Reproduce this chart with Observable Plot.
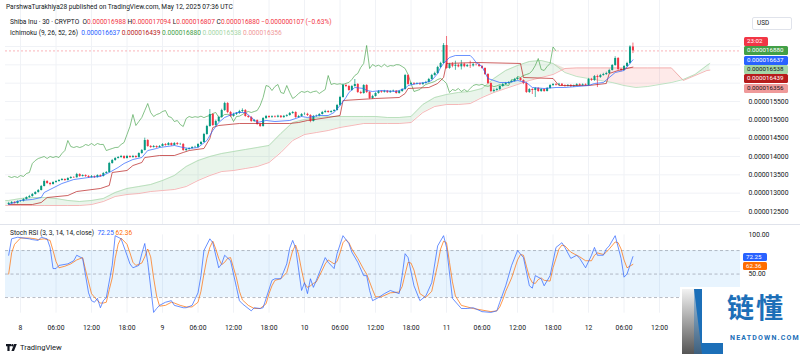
<!DOCTYPE html>
<html><head><meta charset="utf-8">
<script src="https://cdn.jsdelivr.net/npm/d3@7"></script>
<script src="https://cdn.jsdelivr.net/npm/@observablehq/plot@0.6"></script>
<style>
html,body{margin:0;padding:0;background:#fff}
#wrap{position:relative;width:800px;height:356px;overflow:hidden;background:#fff;font-family:Roboto,"Liberation Sans",sans-serif;color:#131722}
#wrap svg{position:absolute;left:0}
.t{position:absolute;white-space:nowrap;line-height:1;font-size:6.6px}
.lbl{position:absolute;height:9px;font-size:6.2px;line-height:9px;color:#fff;border-radius:1.5px;padding-left:3px;box-sizing:border-box;white-space:nowrap}
</style></head><body><div id="wrap"></div>
<script>
// ---- 30-minute candles, SHIB/USD, index 0 = 2025-05-07 22:00 UTC (prices in 1e-9 USD) ----
const open = [12690,12718,12745,12718,
12772,12780,12827,12881,12909,12963,13018,13072,13181,13318,13263,13236,
13290,13318,13345,13372,13345,13399,13427,13420,13509,13454,13481,13454,
13427,13454,13427,13481,13454,13536,13563,13809,13890,13945,13972,14000,
13945,14000,13972,14000,13972,14081,14163,14436,14272,14245,14272,14245,
14272,14327,14300,14354,14300,14354,14327,14330,14163,14191,14218,14245,
14250,14327,14382,14600,14818,15145,14845,14954,15064,15254,15445,15200,
15091,15145,15173,15227,15254,15091,15064,14954,14982,14873,14818,15036,
15091,15064,15085,15070,15100,15060,15095,15118,15173,15200,15064,15091,
15145,15150,15118,14954,15091,15100,15145,15200,15227,15200,15227,15254,
15391,15609,15936,15909,15800,15909,15964,15746,15718,15936,15746,15582,
15636,15718,15773,15750,15780,15740,15770,15785,15718,15773,15827,16209,
15964,15991,15970,15985,15960,15995,16018,16100,16209,16264,16428,16537,
17028,16400,16509,16460,16490,16445,16515,16450,16480,16470,16505,16500,
16455,16400,16237,15991,15773,15800,15827,15909,15964,15991,16018,16046,
16100,16127,16073,15991,15746,15827,15800,15855,15773,15827,15773,15855,
15936,15964,15945,15970,15930,15915,15940,15905,15925,15960,15935,15955,
15936,16100,16073,16182,16155,16209,16237,16264,16346,16482,16673,16373,
16346,16455,16537,16988];
const high = [12750,12770,12770,12790,
12800,12850,12900,12940,12990,13040,13100,13210,13360,13340,13290,13310,
13340,13370,13400,13390,13420,13450,13450,13540,13530,13500,13500,13480,
13480,13470,13500,13500,13560,13590,13840,13920,13970,14000,14030,14020,
14030,14020,14030,14020,14100,14190,14500,14460,14300,14300,14290,14300,
14350,14350,14380,14370,14380,14380,14360,14350,14220,14240,14270,14280,
14350,14410,14630,14850,15280,15170,14990,15100,15290,15480,15470,15230,
15180,15200,15260,15300,15280,15120,15090,15010,15000,14900,15060,15120,
15110,15110,15110,15125,15115,15120,15140,15200,15230,15220,15120,15170,
15190,15180,15140,15120,15130,15170,15230,15260,15250,15250,15280,15420,
15640,15980,15970,15940,15940,16100,15990,15780,15960,15960,15770,15670,
15740,15800,15795,15805,15800,15795,15810,15800,15800,15850,16240,16230,
16020,16015,16010,16005,16020,16050,16130,16240,16300,16460,16570,17080,
17273,16540,16560,16600,16520,16620,16540,16510,16600,16540,16540,16530,
16480,16420,16260,16010,15840,15860,15930,15990,16020,16040,16070,16130,
16160,16150,16090,16010,15850,15850,15880,15880,15850,15850,15880,15960,
15990,15990,15995,15990,15955,15960,15960,15950,15985,15985,15980,15980,
16130,16130,16210,16220,16240,16270,16300,16380,16510,16720,16700,16400,
16480,16570,17020,17094];
const low = [12670,12700,12700,12700,
12750,12760,12810,12860,12890,12950,13000,13060,13170,13240,13200,13220,
13270,13300,13330,13320,13330,13380,13400,13410,13430,13440,13430,13400,
13410,13400,13410,13430,13440,13520,13550,13790,13870,13930,13950,13920,
13930,13950,13950,13950,13960,14060,14150,14250,14220,14230,14220,14230,
14260,14280,14290,14280,14290,14300,14300,14140,14130,14170,14200,14220,
14230,14310,14370,14580,14800,14820,14800,14930,15040,15230,15170,15060,
15070,15120,15150,15200,15070,15040,14930,14930,14850,14790,14800,15010,
15040,15040,15050,15050,15040,15045,15070,15100,15150,15040,15040,15070,
15120,15090,14920,14940,15070,15080,15130,15180,15180,15180,15210,15240,
15370,15590,15880,15780,15780,15890,15720,15690,15700,15720,15560,15560,
15620,15700,15725,15730,15720,15725,15750,15700,15700,15750,15810,15940,
15940,15945,15950,15940,15945,15975,16000,16080,16190,16240,16400,16520,
16380,16380,16420,16350,16420,16360,16420,16430,16400,16440,16470,16430,
16380,16210,15960,15740,15740,15780,15800,15890,15940,15970,16000,16030,
16080,16050,15960,15720,15720,15690,15610,15750,15750,15750,15760,15840,
15910,15920,15925,15910,15890,15895,15885,15885,15905,15915,15915,15915,
15920,16050,16050,15880,16130,16190,16210,16240,16330,16460,16340,16310,
16330,16430,16520,16807];
const close = [12718,12745,12718,12772,
12780,12827,12881,12909,12963,13018,13072,13181,13318,13263,13236,13290,
13318,13345,13372,13345,13399,13427,13420,13509,13454,13481,13454,13427,
13454,13427,13481,13454,13536,13563,13809,13890,13945,13972,14000,13945,
14000,13972,14000,13972,14081,14163,14436,14272,14245,14272,14245,14272,
14327,14300,14354,14300,14354,14327,14330,14163,14191,14218,14245,14250,
14327,14382,14600,14818,15145,14845,14954,15064,15254,15445,15200,15091,
15145,15173,15227,15254,15091,15064,14954,14982,14873,14818,15036,15091,
15064,15085,15070,15100,15060,15095,15118,15173,15200,15064,15091,15145,
15150,15118,14954,15091,15100,15145,15200,15227,15200,15227,15254,15391,
15609,15936,15909,15800,15909,15964,15746,15718,15936,15746,15582,15636,
15718,15773,15750,15780,15740,15770,15785,15718,15773,15827,16209,15964,
15991,15970,15985,15960,15995,16018,16100,16209,16264,16428,16537,17028,
16400,16509,16460,16490,16445,16515,16450,16480,16470,16505,16500,16455,
16400,16237,15991,15773,15800,15827,15909,15964,15991,16018,16046,16100,
16127,16073,15991,15746,15827,15800,15855,15773,15827,15773,15855,15936,
15964,15945,15970,15930,15915,15940,15905,15925,15960,15935,15955,15936,
16100,16073,16182,16155,16209,16237,16264,16346,16482,16673,16373,16346,
16455,16537,16988,16880];

// ---- Ichimoku (9, 26, 52, 26), positions as candle index ----
const tenkanIdx = [0,4,8,11,12,14,18,22,27,31,34,37,39,42,45,47,50,51,56,59,61,64,67,69,71,73,77,80,82,84,87,90,95,99,101,105,108,110,112,114,115,117,120,121,123,126,131,134,135,138,141,143,145,146,147,149,151,156,157,158,160,162,164,166,169,172,175,177,181,185,188,192,196,198,201,203,205,208,210,211];
const tenkanVal = [12690,12800,12827,12881,13018,13100,13263,13372,13427,13454,13563,13700,13809,13918,13972,14163,14218,14245,14300,14245,14218,14245,14436,14709,14927,15064,15200,15200,15064,14927,14982,14954,14982,15091,15064,15118,15118,15200,15391,15609,15746,15882,15855,15800,15773,15800,15773,15855,15936,15991,16018,16073,16264,16428,16537,16700,16755,16755,16673,16564,16455,16127,16073,16018,16018,16073,16018,15882,15855,15882,15882,15909,15936,15991,16018,16155,16291,16346,16537,16637];
const kijunIdx = [0,8,11,13,20,23,31,34,35,40,42,45,46,51,56,59,61,66,68,69,71,78,95,98,101,108,112,113,124,132,134,135,142,145,147,148,158,173,174,184,186,196,202,203,206,211];
const kijunVal = [12690,12690,12745,12881,12936,13045,13127,13209,13563,13618,13754,13836,13972,14027,14027,14109,14163,14218,14491,14791,14845,14900,14900,14927,14982,15064,15118,15527,15582,15609,15718,15855,15882,15991,16155,16537,16564,16537,16155,16127,15936,15936,15991,16264,16346,16439];
const cloudIdx = [-1,0,4,8,12,16,20,24,28,32,36,40,44,48,52,56,60,64,68,72,76,80,84,88,92,96,100,104,108,112,116,120,124,128,132,136,140,144,148,152,156,160,164,168,172,176,180,184,188,192,196,200,204,208,212,216,220,224,228,232,236,237];
const spanA = [12800,12800,12854,12881,12881,12854,12800,12772,12800,12854,13018,13127,13181,13236,13345,13481,13727,13890,14000,14081,14136,14191,14245,14300,14627,14927,15009,15064,15091,15091,15091,15091,15091,15064,15064,15091,15418,15609,15691,15746,15773,15855,16127,16346,16482,16591,16618,16537,16291,16182,16127,16073,16018,15936,15882,15909,15964,16018,16100,16237,16482,16538];
const spanB = [12663,12663,12663,12663,12663,12663,12663,12663,12690,12772,12909,12963,12990,13045,13072,13100,13181,13345,13481,13590,13618,13672,13727,13836,14109,14436,14600,14654,14709,14791,14845,14900,14900,14900,14900,14927,15200,15364,15418,15418,15445,15609,15746,15855,15964,16073,16155,16237,16400,16416,16416,16416,16416,16416,16416,16416,16416,16416,16073,16209,16346,16356];

// ---- Stoch RSI (3, 3, 14, 14, close) ----
const stochKIdx = [0,1,3,7,8,10,11,13,14,15,16,17,20,22,23,25,27,28,29,30,31,32,33,35,36,38,40,41,42,44,45,46,47,49,50,51,53,55,56,59,60,62,64,65,66,68,69,71,72,73,75,77,78,79,82,83,85,86,89,90,92,94,95,96,97,99,100,101,102,103,104,107,108,110,111,113,115,116,118,120,121,122,123,125,127,129,132,133,134,135,137,139,141,143,145,147,148,150,153,155,157,160,163,165,166,168,170,172,174,176,177,178,180,181,183,185,187,188,190,192,193,195,197,198,199,201,202,203,205,207,208,209,211];
const stochK = [74,95,97,95,94,93,97,95,84,57,57,61,63,67,74,70,26,16,14,19,7,16,20,61,99,95,74,63,58,61,76,89,65,1,6,10,14,16,10,7,7,10,26,48,80,95,90,58,63,74,67,33,16,12,3,7,6,7,42,44,44,63,83,93,83,29,39,25,44,33,42,71,65,57,76,99,89,78,65,48,48,29,16,20,25,29,25,48,76,71,35,16,22,39,86,99,84,19,6,6,7,2,1,3,14,35,61,80,71,35,32,48,44,35,48,84,90,84,70,74,70,58,74,84,74,74,82,86,99,70,46,50,72.25];
const stochDIdx = [0,1,2,4,7,9,10,12,14,15,16,17,19,21,23,25,26,27,28,30,31,32,33,34,35,36,37,38,40,41,42,43,45,46,47,48,49,50,51,53,55,56,58,60,62,64,65,66,67,68,69,70,71,72,73,74,75,76,77,78,79,81,83,85,87,88,89,90,92,94,95,96,97,98,99,100,101,102,103,104,106,107,108,110,111,112,113,114,115,116,118,120,121,122,123,124,126,129,132,133,134,135,136,137,138,139,141,143,144,145,146,147,148,149,150,151,153,157,160,163,165,166,167,168,170,172,173,174,175,176,177,178,179,180,181,183,184,185,186,187,188,190,192,193,195,197,198,199,201,202,203,205,206,207,208,209,211];
const stochD = [50,77,88,96,96,95,94,95,93,80,66,58,60,63,68,71,55,40,25,16,13,13,14,30,45,70,88,96,88,77,65,61,64,72,82,72,45,22,9,10,14,13,10,8,8,14,28,50,70,84,92,82,70,62,65,70,71,58,45,28,17,10,6,6,12,25,35,42,44,52,66,80,87,75,55,38,33,35,38,40,55,63,68,63,66,77,90,94,90,82,70,56,50,40,30,21,21,26,27,34,50,65,64,55,40,25,20,28,45,62,82,92,90,65,40,22,10,6,4,2,3,8,17,28,45,68,75,74,60,46,39,38,43,45,42,41,58,70,82,87,86,78,74,72,67,67,74,77,75,78,82,91,90,82,68,58,62.36];

const priceGrid = [12500,13000,13500,14000,14500,15000,15500,16000,16500,17000];
const priceTicks = [12500,13000,13500,14000,14500,15000,15500];
const stochTicks = [50,100];
const lastPrice = 16880;

// ---- layout helpers ----
const start = Date.UTC(2025,4,7,22,0), HALF = 1800000, HOUR = 3600000;
const at = k => new Date(start + k*HALF);
const day8 = Date.UTC(2025,4,8);
const xDomain = [new Date(day8 - 2.535*HOUR), new Date(day8 + 121.68*HOUR)];
const timeTicks = d3.range(0,19).map(j => new Date(day8 + j*6*HOUR));
const fmtTime = d => d.getUTCHours()===0 ? String(d.getUTCDate()) : d3.utcFormat("%H:%M")(d);
const GREEN="#089981", RED="#f23645", GRID="#f0f2f6";

const candles = close.map((c,i)=>({t:at(i),o:open[i],h:high[i],l:low[i],c}));
const tenkan = tenkanIdx.map((k,j)=>({t:at(k),v:tenkanVal[j]}));
const kijun = kijunIdx.map((k,j)=>({t:at(k),v:kijunVal[j]}));
const cloud = cloudIdx.map((k,j)=>({t:at(k),a:spanA[j],b:spanB[j]}));
const chikou = close.slice(26).map((c,j)=>({t:at(j),v:c}));
const kLine = stochKIdx.map((k,j)=>({t:at(k),v:stochK[j]}));
const dLine = stochDIdx.map((k,j)=>({t:at(k),v:stochD[j]}));

const style = {fontFamily:"Roboto, 'Liberation Sans', sans-serif", fontSize:"6.8px", color:"#131722", background:"transparent", overflow:"visible"};
const wrap = document.getElementById("wrap");

const price = Plot.plot({
  width:800, height:224, marginLeft:5, marginRight:60, marginTop:0, marginBottom:0, style,
  x:{type:"utc", domain:xDomain, range:[5,740], axis:null},
  y:{domain:[12145,18255], range:[224,0], axis:"right", ticks:priceTicks, tickFormat:v=>(v*1e-9).toFixed(9), tickSize:0, tickPadding:8, label:null},
  marks:[
    Plot.ruleY(priceGrid,{stroke:GRID}),
    Plot.ruleX(timeTicks,{stroke:GRID}),
    Plot.areaY(cloud,{x:"t",y1:"b",y2:d=>Math.max(d.a,d.b),fill:"#43a047",fillOpacity:0.11}),
    Plot.areaY(cloud,{x:"t",y1:"a",y2:d=>Math.max(d.a,d.b),fill:"#f44336",fillOpacity:0.11}),
    Plot.line(cloud,{x:"t",y:"a",stroke:"#a5d6a7",strokeWidth:0.7}),
    Plot.line(cloud,{x:"t",y:"b",stroke:"#ef9a9a",strokeWidth:0.7}),
    Plot.ruleY([lastPrice],{stroke:RED,strokeOpacity:0.55,strokeDasharray:"2,2",strokeWidth:0.7}),
    Plot.line(chikou,{x:"t",y:"v",stroke:"#43a047",strokeWidth:0.65}),
    Plot.ruleX(candles,{x:"t",y1:"l",y2:"h",stroke:d=>d.c>=d.o?GREEN:RED,strokeWidth:0.7}),
    Plot.ruleX(candles,{x:"t",y1:"o",y2:"c",stroke:d=>d.c>=d.o?GREEN:RED,strokeWidth:2}),
    Plot.line(kijun,{x:"t",y:"v",stroke:"#b71c1c",strokeWidth:0.7}),
    Plot.line(tenkan,{x:"t",y:"v",stroke:"#2962ff",strokeWidth:0.7})
  ]
});
price.style.top="0px";
wrap.appendChild(price);

const stoch = Plot.plot({
  width:800, height:132, marginLeft:5, marginRight:60, marginTop:0, marginBottom:37, style,
  x:{type:"utc", domain:xDomain, range:[5,740], ticks:timeTicks, tickFormat:fmtTime, tickSize:0, tickPadding:6, label:null},
  y:{domain:[0,100], range:[88.7,10.4], axis:"right", ticks:stochTicks, tickFormat:d3.format(".2f"), tickSize:0, tickPadding:8, label:null},
  marks:[
    Plot.ruleX(timeTicks,{stroke:GRID, y1:0, y2:100}),
    Plot.rect([0],{x1:()=>xDomain[0],x2:()=>xDomain[1],y1:()=>20,y2:()=>80,fill:"#2196f3",fillOpacity:0.1}),
    Plot.ruleY([80,50,20],{stroke:"#8a8e9c",strokeDasharray:"3,2.5",strokeWidth:0.6}),
    Plot.line(dLine,{x:"t",y:"v",stroke:"#ff6d00",strokeWidth:0.7}),
    Plot.line(kLine,{x:"t",y:"v",stroke:"#2962ff",strokeWidth:0.7})
  ]
});
stoch.style.top="224px";
wrap.appendChild(stoch);

function hline(top,left,width,color){const d=document.createElement("div");d.style.cssText=`position:absolute;left:${left}px;top:${top}px;width:${width}px;height:1px;background:${color}`;wrap.appendChild(d);}
hline(224,0,800,"#e0e3eb");

function txt(html,left,top,extra=""){const d=document.createElement("div");d.className="t";d.style.left=left+"px";d.style.top=top+"px";d.style.cssText+=extra;d.innerHTML=html;wrap.appendChild(d);return d;}
txt("ParshwaTurakhiya28 published on TradingView.com, May 12, 2025 07:36 UTC",6,4);
const r=`color:${RED}`;
txt(`Shiba Inu · 30 · CRYPTO&nbsp; O<span style="${r}">0.000016988</span> H<span style="${r}">0.000017094</span> L<span style="${r}">0.000016807</span> C<span style="${r}">0.000016880</span> <span style="${r}">−0.000000107 (−0.63%)</span>`,10,19);
txt(`Ichimoku (9, 26, 52, 26)&nbsp; <span style="color:#2962ff">0.000016637</span> <span style="color:#b71c1c">0.000016439</span> <span style="color:#43a047">0.000016880</span> <span style="color:#a5d6a7">0.000016538</span> <span style="color:#ef9a9a">0.000016356</span>`,10,30);
txt(`Stoch RSI (3, 3, 14, 14, close)&nbsp; <span style="color:#2962ff">72.25</span>&nbsp;<span style="color:#ff6d00">62.36</span>`,10,230);

const usd=document.createElement("div");usd.style.cssText="position:absolute;left:752px;top:17px;width:40px;height:13px;border:1px solid #e0e3eb;border-radius:2px;box-sizing:border-box;font-size:6.4px;line-height:11px;padding-left:4px;color:#131722";usd.textContent="USD";wrap.appendChild(usd);

function lbl(text,top,bg,fg,w=44,left=744,h=9){const d=document.createElement("div");d.className="lbl";d.style.cssText+=`left:${left}px;top:${top}px;width:${w}px;height:${h}px;line-height:${h}px;background:${bg};color:${fg}`;d.textContent=text;wrap.appendChild(d);}
lbl("23:02",36.5,RED,"#fff",24);
lbl("0.000016880",46.2,"#43a047","#fff");
lbl("0.000016637",55.6,"#2962ff","#fff");
lbl("0.000016538",65,"#a5d6a7","#131722");
lbl("0.000016439",74.4,"#b71c1c","#fff");
lbl("0.000016356",83.8,"#ef9a9a","#131722");
lbl("72.25",252.5,"#2962ff","#fff",24,743,8.6);
lbl("62.36",261.8,"#ff6d00","#fff",24,743,8.6);

const tv=document.createElement("div");tv.style.cssText="position:absolute;left:6px;top:342px;height:10px;display:flex;align-items:center;gap:2px;font-size:7.6px;color:#131722";
tv.innerHTML=`<svg width="12" height="7" viewBox="0 0 12 7" style="position:static"><path d="M0 0h5v2.2H3.6V7H1.4V2.2H0z" fill="#131722"/><circle cx="6.4" cy="1.2" r="1.2" fill="#131722"/><path d="M8.2 0h2.6L8 7H5.4z" fill="#131722"/></svg><span>TradingView</span>`;
wrap.appendChild(tv);

const wm=document.createElement("div");wm.style.cssText="position:absolute;left:680px;top:287px;width:120px;height:69px;background:#fff";
wm.innerHTML=`<svg width="45" height="69" viewBox="0 0 45 69" style="position:absolute;left:0;top:0">
<defs><linearGradient id="gg" x1="0" y1="0" x2="0" y2="1"><stop offset="0" stop-color="#f2f2f2"/><stop offset="1" stop-color="#555"/></linearGradient></defs>
<polygon points="2,2 14,2 14,67 2,67" fill="url(#gg)"/>
<polygon points="14,2 22,2 22,56 43,56 43,67 14,67" fill="#1c6fb8"/>
<polygon points="2,2 14,2 22,67 2,67" fill="url(#gg)" opacity="0.6"/>
</svg>
<div style="position:absolute;left:47px;top:6px;font-family:'Noto Sans CJK SC',sans-serif;font-weight:700;font-size:27px;line-height:1;color:#1c6fb8;letter-spacing:2px">链懂</div>
<div style="position:absolute;left:50px;top:47px;font-family:Roboto,sans-serif;font-weight:700;font-size:7px;color:#1c6fb8;letter-spacing:1.2px">NEATDOWN.COM</div>`;
wrap.appendChild(wm);
</script></body></html>
